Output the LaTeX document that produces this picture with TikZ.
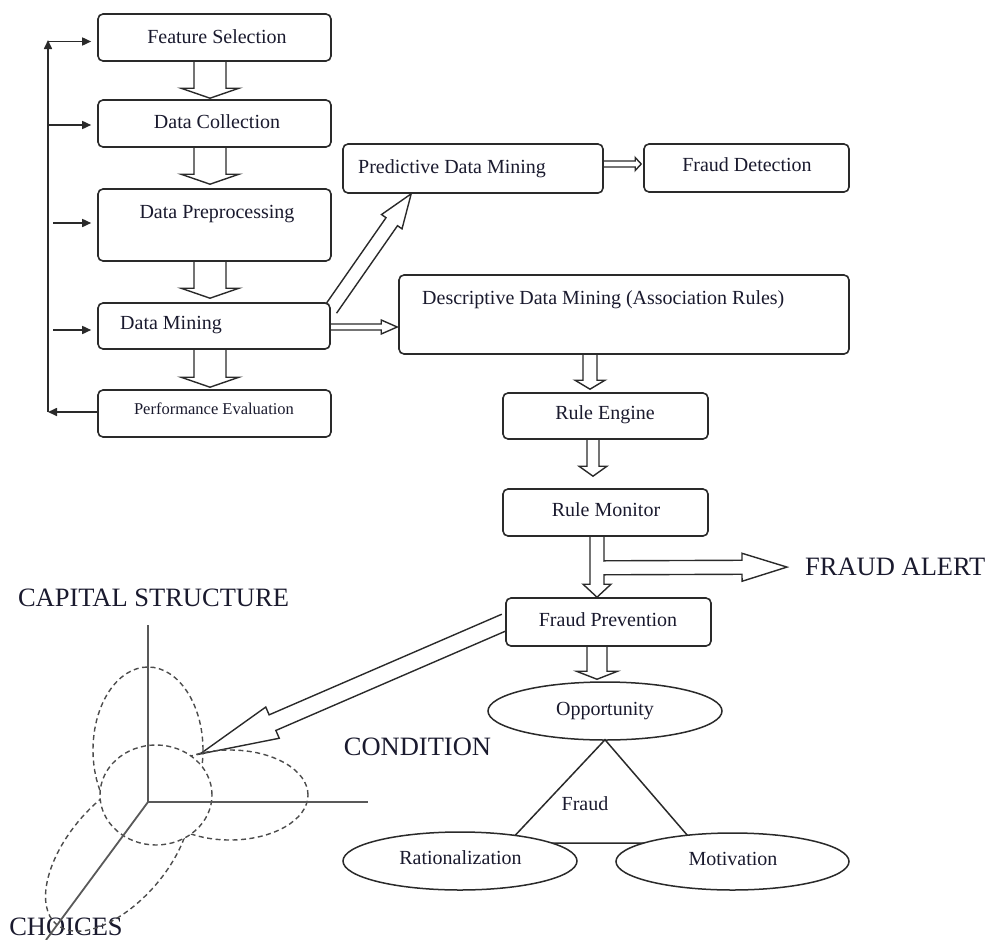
\documentclass[tikz,border=0pt]{standalone}
\usepackage{fontspec}
\setmainfont{Liberation Serif}
\usetikzlibrary{calc,arrows.meta,shapes.geometric}
\definecolor{ink}{HTML}{1A1A2E}
\definecolor{edge}{HTML}{2A2A2A}
\pgfdeclarelayer{bg}
\pgfsetlayers{bg,main}
\newcommand{\blockarrow}[5]{%
  \coordinate (bkH) at ($(#2)!#5!(#1)$);
  \filldraw[blk] ($(#1)!#3!90:(#2)$) -- ($(bkH)!#3!-90:(#1)$) -- ($(bkH)!#4!-90:(#1)$) -- (#2) -- ($(bkH)!#4!90:(#1)$) -- ($(bkH)!#3!90:(#1)$) -- ($(#1)!#3!-90:(#2)$);
}
\tikzset{
  box/.style={draw=edge, line width=1.6pt, rounded corners=5pt, inner sep=0pt, fill=white},
  oval/.style={ellipse, draw=edge, line width=1.5pt, inner sep=0pt, fill=white},
  lbl/.style={inner sep=0pt, text=ink, font=\fontsize{20}{24}\selectfont},
  small/.style={inner sep=0pt, text=ink, font=\fontsize{16.5}{20}\selectfont},
  big/.style={inner sep=0pt, text=ink, font=\fontsize{26.5}{30}\selectfont},
  blk/.style={draw=edge, line width=1.4pt, fill=white, line join=miter},
  fbk/.style={draw=edge, line width=1.6pt, -{Triangle[length=9pt,width=8pt]}},
  axisline/.style={draw=black!65, line width=1.8pt},
  dashline/.style={draw=black!70, line width=1.4pt, dash pattern=on 5pt off 3.5pt},
  triline/.style={draw=edge, line width=1.5pt},
}
\begin{document}
\begin{tikzpicture}[x=1pt,y=-1pt]
\useasboundingbox (0,0) rectangle (989,940);

% ---------- boxes ----------
\node[box, minimum width=233pt, minimum height=47pt] (fs) at (214.5,37.5) {};
\node[box, minimum width=233pt, minimum height=47pt] (dc) at (214.5,123.5) {};
\node[box, minimum width=233pt, minimum height=72pt] (dp) at (214.5,225) {};
\node[box, minimum width=232pt, minimum height=46pt] (dm) at (214,326) {};
\node[box, minimum width=233pt, minimum height=47pt] (pe) at (214.5,413.5) {};
\node[box, minimum width=260pt, minimum height=49pt] (pdm) at (473,168.5) {};
\node[box, minimum width=205pt, minimum height=48pt] (fd) at (746.5,168) {};
\node[box, minimum width=450pt, minimum height=79pt] (desc) at (624,314.5) {};
\node[box, minimum width=205pt, minimum height=46pt] (re) at (605.5,416) {};
\node[box, minimum width=205pt, minimum height=47pt] (rm) at (605.5,512.5) {};
\node[box, minimum width=205pt, minimum height=48pt] (fp) at (608.5,622) {};

% ---------- box texts ----------
\node[lbl, anchor=base] (fst) at (217,43) {Feature Selection};
\node[lbl, anchor=base] (dct) at (217,128.5) {Data Collection};
\node[lbl, anchor=base] (dpt) at (217,218.5) {Data Preprocessing};
\node[lbl, anchor=base west] (dmt) at (120,329.5) {Data Mining};
\node[small, anchor=base] (pet) at (214,414.5) {Performance Evaluation};
\node[lbl, anchor=base west] (pdmt) at (358,173.5) {Predictive Data Mining};
\node[lbl, anchor=base] (fdt) at (747,171.5) {Fraud Detection};
\node[lbl, anchor=base west] (desct) at (422,304.5) {Descriptive Data Mining (Association Rules)};
\node[lbl, anchor=base] (ret) at (605,419.5) {Rule Engine};
\node[lbl, anchor=base] (rmt) at (606,516.5) {Rule Monitor};
\node[lbl, anchor=base] (fpt) at (608,626.5) {Fraud Prevention};

% ---------- fraud triangle ----------
\node[oval, minimum width=234pt, minimum height=58pt] (opp) at (605,711) {};
\coordinate (triL) at (508,843);
\coordinate (triR) at (694,843);
\draw[triline] ([yshift=1pt]opp.south) -- (triL) -- (triR) -- cycle;
\node[oval, minimum width=234pt, minimum height=58pt] (rat) at (460,861) {};
\node[oval, minimum width=233pt, minimum height=57pt] (mot) at (732.5,861.5) {};
\node[lbl, anchor=base] (oppt) at (605,715.5) {Opportunity};
\node[lbl, anchor=base] (ratt) at (460.5,864.5) {Rationalization};
\node[lbl, anchor=base] (mott) at (733,865.5) {Motivation};
\node[lbl, anchor=base] (frt) at (585,810.5) {Fraud};

% ---------- big labels ----------
\node[big, anchor=base west] (fa) at (805,575.7) {FRAUD ALERT};
\node[big, anchor=base] (cap) at (153.5,606.7) {CAPITAL STRUCTURE};
\node[big, anchor=base] (cond) at (417.5,755.7) {CONDITION};
\node[big, anchor=base] (cho) at (66,935) {CHOICES};

% ---------- capital structure sketch ----------
\draw[dashline] (148,750) ellipse [x radius=55pt, y radius=83pt];
\draw[dashline] (230,795) ellipse [x radius=78pt, y radius=45pt];
\draw[dashline, rotate around={49.5:(118,852)}] (118,852) ellipse [x radius=95pt, y radius=50pt];
\draw[dashline, fill=white] (156,795) ellipse [x radius=56pt, y radius=50pt];
\coordinate (org) at (148,802);
\coordinate (axY) at (148,625);
\coordinate (axX) at (368,802);
\coordinate (axZ) at (46,940);
\draw[axisline] (axY) -- (org) -- (axX);
\draw[axisline] (org) -- (axZ);
\coordinate (capTip) at (200,754);

% ---------- feedback loop ----------
\coordinate (fbx) at (48,0);
\draw[fbk] ([yshift=1.5pt]pe.west) -- ([yshift=1.5pt]pe.west -| fbx);
\draw[fbk] ([yshift=1.5pt]pe.west -| fbx) -- ([yshift=-2.5pt]fs.west -| fbx);
\draw[fbk] ([yshift=-4pt]fs.west -| fbx) -- ([xshift=-6pt,yshift=-4pt]fs.west);
\draw[fbk] ([yshift=-1.5pt]dc.west -| fbx) -- ([xshift=-6pt,yshift=-1.5pt]dc.west);
\draw[fbk] ([xshift=5pt,yshift=2pt]dp.west -| fbx) -- ([xshift=-6pt,yshift=2pt]dp.west);
\draw[fbk] ([xshift=5pt,yshift=-4pt]dm.west -| fbx) -- ([xshift=-6pt,yshift=-4pt]dm.west);

% ---------- block arrows ----------
\coordinate (a1s) at ([xshift=-4.5pt]fs.south);
\coordinate (a1e) at ([xshift=-4.5pt,yshift=1pt]dc.north);
\coordinate (a2s) at ([xshift=-4.5pt]dc.south);
\coordinate (a2e) at ([xshift=-4.5pt,yshift=4pt]dp.north);
\coordinate (a3s) at ([xshift=-4.5pt]dp.south);
\coordinate (a3e) at ([xshift=-4pt,yshift=4pt]dm.north);
\coordinate (a4s) at ([xshift=-4pt]dm.south);
\coordinate (a4e) at ([xshift=-4.5pt,yshift=2pt]pe.north);
\coordinate (p1s) at ([yshift=-7pt]dm.north east);
\coordinate (p1e) at ([xshift=69pt]pdm.south west);
\coordinate (p2s) at ([yshift=4.5pt]pdm.east);
\coordinate (p2e) at ([xshift=-2pt,yshift=4pt]fd.west);
\coordinate (d1s) at ([yshift=-1pt]dm.east);
\coordinate (d1e) at ([xshift=-1pt]d1s -| desc.west);
\coordinate (r1s) at ([xshift=-34pt]desc.south);
\coordinate (r1e) at ([xshift=-15.5pt,yshift=3pt]re.north);
\coordinate (r2s) at ([xshift=-12.5pt]re.south);
\coordinate (r2e) at ([xshift=-12.5pt,yshift=12pt]rm.north);
\coordinate (r3s) at ([xshift=-8.5pt]rm.south);
\coordinate (r3e) at ([xshift=-11.5pt]fp.north);
\coordinate (r4s) at ([xshift=-11.5pt]fp.south);
\coordinate (r4e) at ([yshift=2pt]opp.north -| r4s);
\coordinate (fas) at ($(r3s)+(7,31)$);
\coordinate (fae) at ([xshift=-18pt]fa.west);

\begin{pgfonlayer}{bg}
\blockarrow{a1s}{a1e}{16pt}{29pt}{10pt}
\blockarrow{a2s}{a2e}{16pt}{29pt}{10pt}
\blockarrow{a3s}{a3e}{16pt}{29pt}{10pt}
\blockarrow{a4s}{a4e}{16pt}{29pt}{10pt}
\blockarrow{p1s}{p1e}{7pt}{12.5pt}{34pt}
\blockarrow{p2s}{p2e}{3pt}{6.5pt}{6pt}
\blockarrow{d1s}{d1e}{3pt}{7pt}{16pt}
\blockarrow{r1s}{r1e}{7pt}{15pt}{9pt}
\blockarrow{r2s}{r2e}{6pt}{14pt}{10pt}
\blockarrow{r3s}{r3e}{7pt}{14pt}{13pt}
\fill[white] ($(fas)+(-4,-6.3)$) rectangle ($(fas)+(1.5,6.3)$);
\blockarrow{fas}{fae}{7pt}{14pt}{45pt}
\blockarrow{r4s}{r4e}{10pt}{20.5pt}{8pt}
\blockarrow{fp.west}{capTip}{8.5pt}{17pt}{79pt}
\end{pgfonlayer}
\end{tikzpicture}
\end{document}
